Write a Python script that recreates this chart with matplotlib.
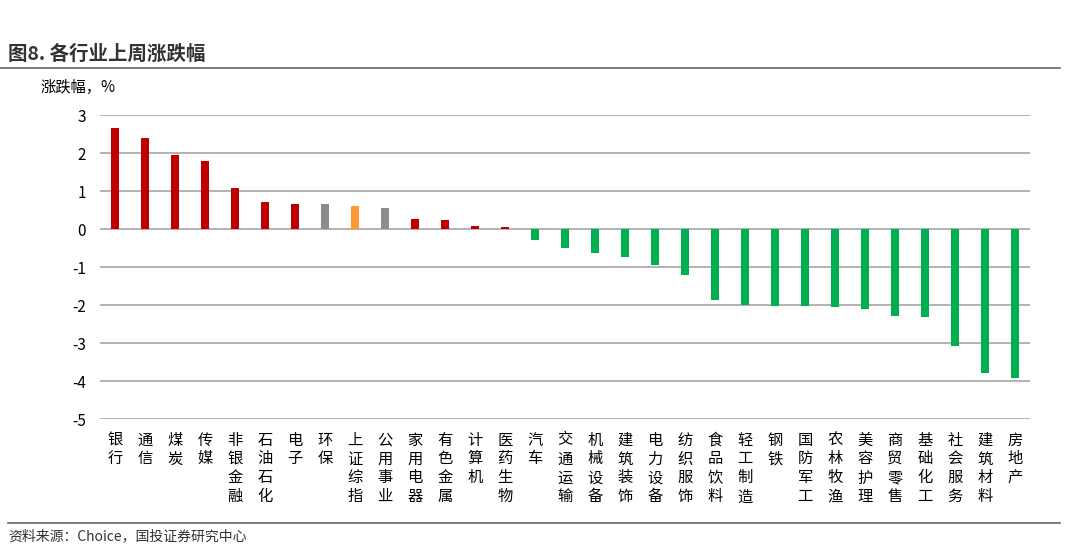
import matplotlib
matplotlib.use('Agg')
import matplotlib.pyplot as plt

plt.rcParams['font.family'] = ['Noto Sans CJK SC', 'DejaVu Sans']
plt.rcParams['axes.unicode_minus'] = False

industries = ['银行', '通信', '煤炭', '传媒', '非银金融', '石油石化', '电子', '环保',
              '上证综指', '公用事业', '家用电器', '有色金属', '计算机', '医药生物',
              '汽车', '交通运输', '机械设备', '建筑装饰', '电力设备', '纺织服饰',
              '食品饮料', '轻工制造', '钢铁', '国防军工', '农林牧渔', '美容护理',
              '商贸零售', '基础化工', '社会服务', '建筑材料', '房地产']
changes = [2.65, 2.40, 1.94, 1.79, 1.08, 0.71, 0.66, 0.65,
           0.60, 0.55, 0.26, 0.24, 0.09, 0.04,
           -0.29, -0.51, -0.62, -0.73, -0.94, -1.22,
           -1.87, -2.00, -2.02, -2.03, -2.05, -2.10,
           -2.29, -2.31, -3.08, -3.80, -3.91]
gray_names = ['环保', '公用事业']   # 灰色柱
index_name = '上证综指'             # 橙色柱

colors = []
for name, v in zip(industries, changes):
    if name == index_name:
        colors.append('#FF9933')
    elif name in gray_names:
        colors.append('#8C8C8C')
    elif v >= 0:
        colors.append('#C00000')
    else:
        colors.append('#00B050')

fig = plt.figure(figsize=(10.66, 5.48), dpi=100)
ax = fig.add_axes([100 / 1066, 1 - 419 / 548, 930 / 1066, 304 / 548])

x = list(range(len(industries)))
ax.bar(x, changes, width=0.28, color=colors, zorder=3)

ax.set_xlim(-0.5, len(industries) - 0.5)
ax.set_ylim(-5, 3)
ax.set_yticks(range(-5, 4))
ax.yaxis.grid(True, color='#A6A6A6', linewidth=1.2, zorder=0)
for s in ax.spines.values():
    s.set_visible(False)
ax.tick_params(axis='y', length=0, labelsize=11, pad=10)
ax.tick_params(axis='x', length=0, pad=9)
ax.set_xticks(x)
ax.set_xticklabels(['\n'.join(n) for n in industries], fontsize=11,
                   linespacing=1.15, va='top')

# 标题和注释
fig.text(8 / 1066, 1 - 54 / 548, '图8. 各行业上周涨跌幅', fontsize=14,
         fontweight='bold', color='#333333', va='center')
fig.add_artist(plt.Line2D([0, 1060 / 1066], [1 - 68 / 548] * 2,
                          color='#666666', linewidth=1.2))
fig.text(40 / 1066, 1 - 87 / 548, '涨跌幅，%', fontsize=11, va='center')
fig.add_artist(plt.Line2D([8 / 1066, 1060 / 1066], [1 - 523 / 548] * 2,
                          color='#666666', linewidth=1.2))
fig.text(8 / 1066, 1 - 536 / 548, '资料来源：Choice，国投证券研究中心', fontsize=10,
         style='italic', color='#333333', va='center')

fig.savefig('out.png', dpi=100)
